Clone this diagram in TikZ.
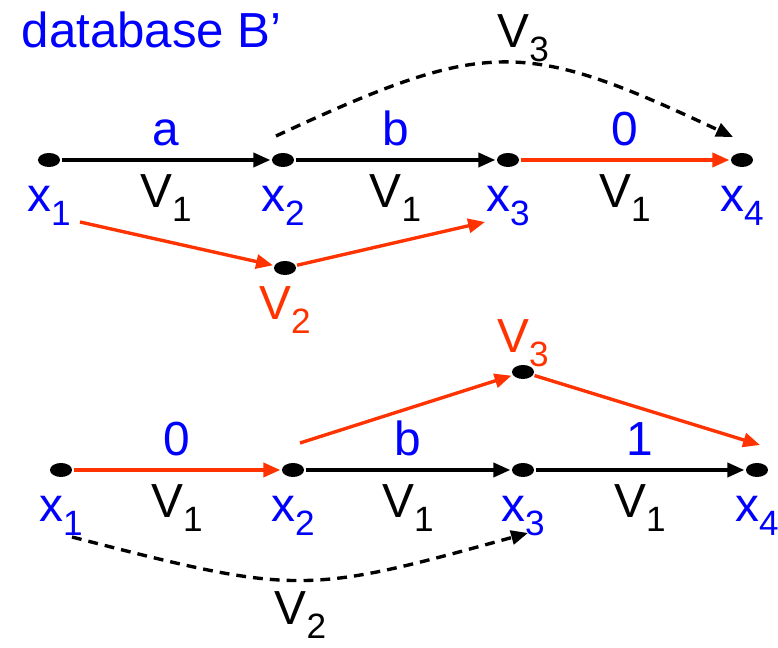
\documentclass[tikz,border=0pt]{standalone}
\usepackage{fontspec}
\setmainfont{Liberation Sans}
\usetikzlibrary{positioning,arrows.meta,shapes.geometric}
\definecolor{myblue}{RGB}{0,0,255}
\definecolor{myred}{RGB}{255,51,0}
\newcommand\lbl[2]{#1\raisebox{-10pt}{\fontsize{25}{25}\selectfont #2}}
\tikzset{-{Triangle[length=12pt,width=10pt]},
dt/.style={ellipse,fill=black,draw=none,inner sep=0pt,minimum width=0.55cm,minimum height=0.35cm},
el/.style={font=\fontsize{34}{36}\selectfont,inner sep=9pt,text=black},
xl/.style={font=\fontsize{34}{36}\selectfont,inner sep=0pt,text=myblue},
vl/.style={font=\fontsize{34}{36}\selectfont,inner sep=0pt,text=myred},
re/.style={myred},
de/.style={dash pattern=on 7pt off 5pt},
}
\begin{document}
\begin{tikzpicture}[x=0.025cm,y=0.025cm,line width=2.4pt]
	\useasboundingbox (0,0) rectangle (778,648);
	\node[anchor=base west,inner sep=0pt,text=myblue,font=\fontsize{35}{40}\selectfont] (title) at (20,600) {database B’};

	% upper chain
	\node[dt] (a1) at (49,488) {};
	\node[dt] (a2) at (283,488) {};
	\node[dt] (a3) at (508,488) {};
	\node[dt] (a4) at (742,488) {};
	\node[dt] (va) at (285,380) {};
	\node[xl,below=11pt of a1] (la1) {\lbl{x}{1}};
	\node[xl,below=11pt of a2] (la2) {\lbl{x}{2}};
	\node[xl,below=11pt of a3] (la3) {\lbl{x}{3}};
	\node[xl,below=11pt of a4] (la4) {\lbl{x}{4}};
	\node[vl,below=6pt of va] (lva) {\lbl{V}{2}};
	\coordinate (ua) at (80,426);
	\coordinate (ub) at (485,426);
	\coordinate (uc) at (276,512);
	\coordinate (ud) at (733,511);

	\path
	(a1) edge node[el,above,text=myblue] {a} node[el,below] {\lbl{V}{1}} (a2)
	(a2) edge node[el,above,text=myblue] {b} node[el,below] {\lbl{V}{1}} (a3)
	(a3) edge[re] node[el,above,text=myblue] {0} node[el,below] {\lbl{V}{1}} (a4)
	(ua) edge[re] (va)
	(va) edge[re] (ub)
	(uc) edge[de,bend left=25,looseness=1.3] node[el,above,inner sep=0pt,pos=0.55] {\lbl{V}{3}} (ud)
	;

	% lower chain
	\node[dt] (b1) at (61,178) {};
	\node[dt] (b2) at (293,178) {};
	\node[dt] (b3) at (523,178) {};
	\node[dt] (b4) at (757,178) {};
	\node[dt] (vb) at (523,276) {};
	\node[xl,below=11pt of b1] (lb1) {\lbl{x}{1}};
	\node[xl,below=11pt of b2] (lb2) {\lbl{x}{2}};
	\node[xl,below=11pt of b3] (lb3) {\lbl{x}{3}};
	\node[xl,below=11pt of b4] (lb4) {\lbl{x}{4}};
	\node[vl,above=-3.5pt of vb] (lvb) {\lbl{V}{3}};
	\coordinate (ba) at (300,205);
	\coordinate (bb) at (760,203);
	\coordinate (bc) at (72,111);
	\coordinate (bd) at (528,115);

	\path
	(b1) edge[re] node[el,above,text=myblue] {0} node[el,below] {\lbl{V}{1}} (b2)
	(b2) edge node[el,above,text=myblue] {b} node[el,below] {\lbl{V}{1}} (b3)
	(b3) edge node[el,above,text=myblue] {1} node[el,below] {\lbl{V}{1}} (b4)
	(ba) edge[re] (vb)
	(vb) edge[re] (bb)
	(bc) edge[de,bend right=15,looseness=1.3] node[el,below,inner sep=0pt,yshift=-7pt,pos=0.5] {\lbl{V}{2}} (bd)
	;
\end{tikzpicture}
\end{document}
